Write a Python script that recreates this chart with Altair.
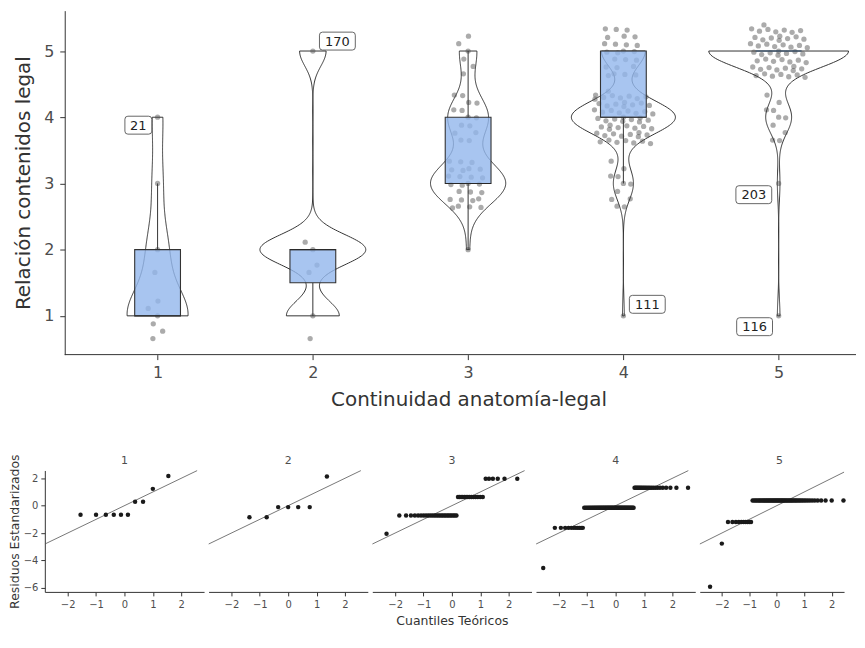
import altair as alt
import numpy as np
import pandas as pd

groups = [1, 2, 3, 4, 5]
levels = [1, 2, 3, 4, 5]
counts_g1 = [6, 2, 1, 1, 0]
counts_g2 = [2, 4, 0, 0, 1]
counts_g3 = [0, 1, 26, 14, 6]
counts_g4 = [1, 0, 11, 57, 24]
counts_g5 = [1, 0, 1, 10, 54]
counts = [counts_g1, counts_g2, counts_g3, counts_g4, counts_g5]

label_text = ["21", "170", "111", "203", "116"]
label_x = [0.876, 2.158, 4.154, 4.84, 4.845]
label_y = [3.88, 5.15, 1.174, 2.83, 0.836]

qq_line_x = [-2.8, 2.56]
qq_line_y = [-2.8, 2.56]

rows = []
for g, cs in zip(groups, counts):
    for lv, c in zip(levels, cs):
        rows += [{"grp": g, "val": lv}] * c
obs = pd.DataFrame(rows)
labdf = pd.DataFrame({"lab": label_text, "lx": label_x, "ly": label_y})
linedf = pd.DataFrame({"qx": qq_line_x, "qy": qq_line_y})
spacer_df = pd.DataFrame({"s": [0]})


def nrd0(x):
    x = np.asarray(x, float)
    hi = x.std(ddof=1)
    q75, q25 = np.percentile(x, [75, 25])
    lo = min(hi, (q75 - q25) / 1.34)
    if not lo:
        lo = hi or abs(x[0]) or 1.0
    return 0.9 * lo * len(x) ** -0.2


def kde_max(x, bw):
    x = np.asarray(x, float)
    grid = np.linspace(x.min(), x.max(), 512)
    d = np.exp(-0.5 * ((grid[:, None] - x[None, :]) / bw) ** 2).sum(1) / (len(x) * bw * np.sqrt(2 * np.pi))
    return d.max()


bws = {}
dmax = 0
for g in groups:
    xv = obs.val[obs.grp == g].values
    bws[g] = float(nrd0(xv))
    dmax = max(dmax, kde_max(xv, bws[g]))
C = 0.45 / dmax

FONT = "DejaVu Sans"
TW, TH = 815, 345.6
AX_SHIFT = 20
UNIT = 156.0
xs = alt.Scale(domain=[0.402 - AX_SHIFT / UNIT, 0.402 + (TW - AX_SHIFT) / UNIT], nice=False, zero=False, padding=0)
ys = alt.Scale(domain=[0.414, 5.61], nice=False, zero=False, padding=0)

xax = alt.Axis(values=[1, 2, 3, 4, 5], format="d", grid=False, domain=False,
               title="Continuidad anatomía-legal",
               titleFontSize=20, titleFontWeight="normal", titleColor="#333333", titlePadding=9,
               titleX=425.7, labelFontSize=16, labelColor="#4d4d4d", labelPadding=5,
               tickColor="#333333", tickSize=5)
yax = alt.Axis(values=[1, 2, 3, 4, 5], format="d", grid=False, title="Relación contenidos legal",
               offset=-AX_SHIFT,
               titleFontSize=20, titleFontWeight="normal", titleColor="#333333",
               titleX=-41, titleY=TH / 2, titleBaseline="middle",
               labelFontSize=16, labelColor="#4d4d4d", labelPadding=6,
               tickColor="#333333", tickSize=5, domainColor="#333333")


def violin(g):
    xv = obs.val[obs.grp == g]
    return (
        alt.Chart(obs)
        .transform_filter(alt.datum.grp == g)
        .transform_density("val", bandwidth=bws[g], extent=[float(xv.min()), float(xv.max())],
                           steps=256, as_=["v", "dens"])
        .transform_calculate(xl=f"{g} - datum.dens*{C}", xr=f"{g} + datum.dens*{C}")
        .mark_area(orient="horizontal", fill="white", stroke="#333333", strokeWidth=1)
        .encode(y=alt.Y("v:Q", scale=ys, axis=yax), x=alt.X("xl:Q", scale=xs, axis=xax), x2="xr:Q")
    )


violins = [violin(g) for g in groups]

pts = (
    alt.Chart(obs)
    .transform_joinaggregate(cnt="count()", groupby=["grp", "val"])
    .transform_window(k="row_number()", groupby=["grp", "val"])
    .transform_calculate(
        jx="datum.grp + (2*(((datum.k-1)*0.7548776662 + 0.5) % 1) - 1) * 0.19 * sqrt(datum.cnt/57)",
        jy="datum.val + (2*(((datum.k-1)*0.5698402910 + 0.5) % 1) - 1) * 0.4",
    )
    .mark_circle(size=28, color="#444444", opacity=0.45)
    .encode(x=alt.X("jx:Q", scale=xs, axis=xax), y=alt.Y("jy:Q", scale=ys, axis=yax))
)

box = (
    alt.Chart(obs)
    .mark_boxplot(extent=1.5, outliers=False, ticks=False, size=46, orient="vertical",
                  box={"fill": "#92b6ec", "fillOpacity": 0.8, "stroke": "#333333", "strokeWidth": 1.1},
                  median={"color": "#222222", "strokeWidth": 2.4},
                  rule={"color": "#333333", "strokeWidth": 1})
    .encode(x=alt.X("grp:Q", scale=xs, axis=xax), y=alt.Y("val:Q", scale=ys, axis=yax))
)

path3 = "M-0.833,-0.5H0.833Q1,-0.5,1,-0.333V0.333Q1,0.5,0.833,0.5H-0.833Q-1,0.5,-1,0.333V-0.333Q-1,-0.5,-0.833,-0.5Z"
path2 = "M-0.778,-0.667H0.778Q1,-0.667,1,-0.444V0.444Q1,0.667,0.778,0.667H-0.778Q-1,0.667,-1,0.444V-0.444Q-1,-0.667,-0.778,-0.667Z"

lab_box = (
    alt.Chart(labdf)
    .transform_calculate(shp=f"length(datum.lab) < 3 ? '{path2}' : '{path3}'",
                         sz="length(datum.lab) < 3 ? 729 : 1296")
    .mark_point(filled=True, fill="white", stroke="#555555", strokeWidth=0.9, opacity=1)
    .encode(x=alt.X("lx:Q", scale=xs, axis=xax), y=alt.Y("ly:Q", scale=ys, axis=yax),
            shape=alt.Shape("shp:N", scale=None), size=alt.Size("sz:Q", scale=None))
)
lab_txt = (
    alt.Chart(labdf)
    .mark_text(fontSize=13, color="#222222", font=FONT, baseline="middle", dy=0.5)
    .encode(x=alt.X("lx:Q", scale=xs, axis=xax), y=alt.Y("ly:Q", scale=ys, axis=yax), text="lab:N")
)
x_axis_line = alt.Chart(spacer_df).mark_rule(color="#333333", strokeWidth=1).encode(
    x=alt.value(AX_SHIFT), x2=alt.value(TW), y=alt.value(TH))

top = alt.layer(*violins, pts, box, lab_box, lab_txt, x_axis_line).properties(width=TW, height=TH)

base = (
    alt.Chart(obs)
    .transform_joinaggregate(mu="mean(val)", sd="stdev(val)", n="count()", groupby=["grp"])
    .transform_calculate(z="(datum.val - datum.mu) / datum.sd")
    .transform_window(r="row_number()", groupby=["grp"], sort=[alt.SortField("z", order="ascending")])
    .transform_calculate(a="datum.n <= 10 ? 0.375 : 0.5")
    .transform_calculate(theo="quantileNormal((datum.r - datum.a) / (datum.n + 1 - 2*datum.a))")
)

QH = 122
qy_scale = alt.Scale(domain=[-6.3, 2.57], nice=False, zero=False, padding=0)


def panel(g, w, dom):
    xsc = alt.Scale(domain=dom, nice=False, zero=False, padding=0)
    xa = alt.Axis(values=[-2, -1, 0, 1, 2], grid=False, labelFontSize=10, labelColor="#4d4d4d",
                  tickColor="#333333", tickSize=4, domainColor="#333333", labelPadding=4,
                  title="Cuantiles Teóricos" if g == 3 else None, titleFontSize=12.5,
                  titleFontWeight="normal", titleColor="#333333", titlePadding=5)
    if g == 1:
        ya = alt.Axis(values=[-6, -4, -2, 0, 2], grid=False, labelFontSize=10, labelColor="#4d4d4d",
                      tickColor="#333333", tickSize=4, domainColor="#333333", labelPadding=3,
                      title="Residuos Estandarizados", titleFontSize=12.5, titleFontWeight="normal",
                      titleColor="#333333", titleX=-30.5, titleY=QH / 2, titleBaseline="middle")
    else:
        ya = None
    p = (
        base.transform_filter(alt.datum.grp == g)
        .mark_circle(size=20, color="#1a1a1a", opacity=1)
        .encode(x=alt.X("theo:Q", scale=xsc, axis=xa), y=alt.Y("z:Q", scale=qy_scale, axis=ya))
    )
    ln = (
        alt.Chart(linedf)
        .transform_calculate(cx=f"min(datum.qx, {dom[1]})", cy=f"min(datum.qy, {dom[1]})")
        .mark_line(color="#555555", strokeWidth=0.8)
        .encode(x=alt.X("cx:Q", scale=xsc, axis=xa), y=alt.Y("cy:Q", scale=qy_scale, axis=ya))
    )
    strip = alt.Chart(spacer_df).mark_text(text=str(g), fontSize=11, color="#4d4d4d", font=FONT,
                                           baseline="middle", align="center").encode(
        x=alt.value(80), y=alt.value(-10))
    layers = [ln, p, strip]
    if g == 1:
        layers.append(alt.Chart(spacer_df).mark_rule(strokeOpacity=0, strokeWidth=0).encode(
            x=alt.value(-36.3), x2=alt.value(-35.3), y=alt.value(QH / 2)))
    return alt.layer(*layers).properties(width=w, height=QH)


full_dom = [-2.805, 2.805]
panels = [panel(g, 160, full_dom) for g in [1, 2, 3, 4]]
panels.append(panel(5, 145, [-2.805, 2.25 + 0.2]))
bottom = alt.hconcat(*panels, spacing=2.5)

chart = (
    alt.vconcat(top, bottom, spacing=44)
    .properties(padding={"left": 0, "top": 1.2, "right": 0, "bottom": 0})
    .configure(font=FONT)
    .configure_view(stroke=None)
    .configure_title(font=FONT, fontWeight="normal")
)

chart.save("out.html", embed_options={"renderer": "svg", "actions": False})
